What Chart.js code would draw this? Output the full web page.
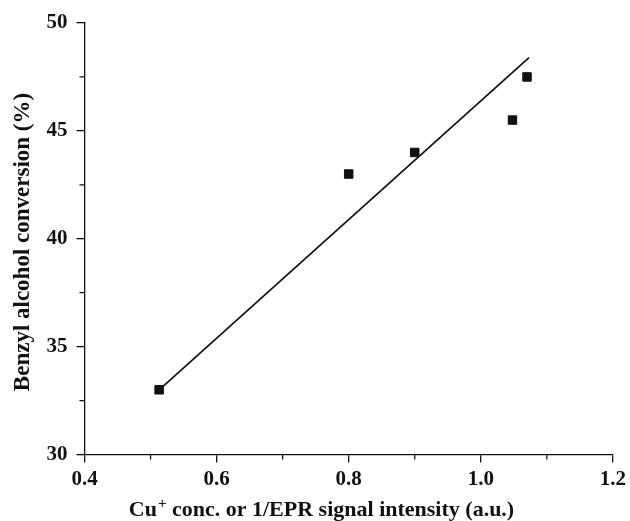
<!DOCTYPE html>
<html>
<head>
<meta charset="utf-8">
<script src="https://cdn.jsdelivr.net/npm/chart.js@4"></script>
<style>
  html, body { margin: 0; padding: 0; background: #fff; }
  canvas { display: block; }
</style>
</head>
<body>
<canvas id="chart" width="630" height="521"></canvas>
<script>
// measured points
const cuConc = [0.513, 0.8, 0.9, 1.048, 1.07];
const conversion = [33, 43, 44, 45.5, 47.5];
// linear fit, drawn between its two ends
const fitX = [0.513, 1.073];
const fitY = [33, 48.4];

const xTitleMain = 'Cu';
const xTitleSup = '+';
const xTitleRest = ' conc. or 1/EPR signal intensity (a.u.)';
const yTitle = 'Benzyl alcohol conversion (%)';

const FONT = '"Liberation Serif", "Times New Roman", serif';
const INK = '#111';

// minor ticks between the labelled ones + the axis titles
const axisExtras = {
    id: 'axisExtras',
    afterDraw(chart) {
        const ctx = chart.ctx;
        const x = chart.scales.x, y = chart.scales.y;
        const area = chart.chartArea;
        ctx.save();
        ctx.strokeStyle = INK;
        ctx.lineWidth = 1.3;
        ctx.beginPath();
        for (let i = 0; i < x.ticks.length - 1; i++) {
            const px = x.getPixelForValue((x.ticks[i].value + x.ticks[i + 1].value) / 2);
            ctx.moveTo(px, area.bottom);
            ctx.lineTo(px, area.bottom + 5);
        }
        for (let i = 0; i < y.ticks.length - 1; i++) {
            const py = y.getPixelForValue((y.ticks[i].value + y.ticks[i + 1].value) / 2);
            ctx.moveTo(area.left, py);
            ctx.lineTo(area.left - 5, py);
        }
        ctx.stroke();

        ctx.fillStyle = INK;
        ctx.textBaseline = 'alphabetic';

        // x title with superscript
        const big = 'bold 22px ' + FONT, small = 'bold 15px ' + FONT;
        ctx.font = big;
        const w1 = ctx.measureText(xTitleMain).width;
        const w3 = ctx.measureText(xTitleRest).width;
        ctx.font = small;
        const w2 = ctx.measureText(xTitleSup).width;
        let tx = 321 - (w1 + w2 + w3) / 2;
        const ty = 516;
        ctx.textAlign = 'left';
        ctx.font = big;
        ctx.fillText(xTitleMain, tx, ty);
        ctx.font = small;
        ctx.fillText(xTitleSup, tx + w1 + 1, ty - 8);
        ctx.font = big;
        ctx.fillText(xTitleRest, tx + w1 + w2 + 1, ty);

        // y title
        ctx.translate(29, 242);
        ctx.rotate(-Math.PI / 2);
        ctx.textAlign = 'center';
        ctx.font = 'bold 23px ' + FONT;
        ctx.fillText(yTitle, 0, 0);
        ctx.restore();
    }
};

new Chart(document.getElementById('chart').getContext('2d'), {
    type: 'scatter',
    data: {
        datasets: [
            {
                data: cuConc.map((v, i) => ({ x: v, y: conversion[i] })),
                pointStyle: 'rect',
                pointRadius: 6,
                pointBorderWidth: 1,
                pointBackgroundColor: INK,
                pointBorderColor: INK
            },
            {
                data: fitX.map((v, i) => ({ x: v, y: fitY[i] })),
                showLine: true,
                borderColor: INK,
                borderWidth: 1.7,
                pointRadius: 0,
                fill: false
            }
        ]
    },
    options: {
        responsive: false,
        animation: false,
        layout: { padding: { top: 23, right: 15, left: 0, bottom: 0 } },
        plugins: { legend: { display: false }, tooltip: { enabled: false } },
        scales: {
            x: {
                type: 'linear',
                min: 0.4, max: 1.2,
                afterFit: s => { s.height = 66.5; },
                border: { display: true, color: INK, width: 1.3 },
                grid: { drawOnChartArea: false, drawTicks: true, tickLength: 8, color: INK, lineWidth: 1.3 },
                ticks: {
                    stepSize: 0.2,
                    padding: 4,
                    color: INK,
                    font: { family: FONT, size: 21, weight: 'bold' },
                    callback: v => v.toFixed(1)
                }
            },
            y: {
                min: 30, max: 50,
                afterFit: s => { s.width = 84.5; },
                border: { display: true, color: INK, width: 1.3 },
                grid: { drawOnChartArea: false, drawTicks: true, tickLength: 8, color: INK, lineWidth: 1.3 },
                ticks: {
                    stepSize: 5,
                    padding: 9,
                    color: INK,
                    font: { family: FONT, size: 21, weight: 'bold' }
                }
            }
        }
    },
    plugins: [axisExtras]
});
</script>
</body>
</html>
